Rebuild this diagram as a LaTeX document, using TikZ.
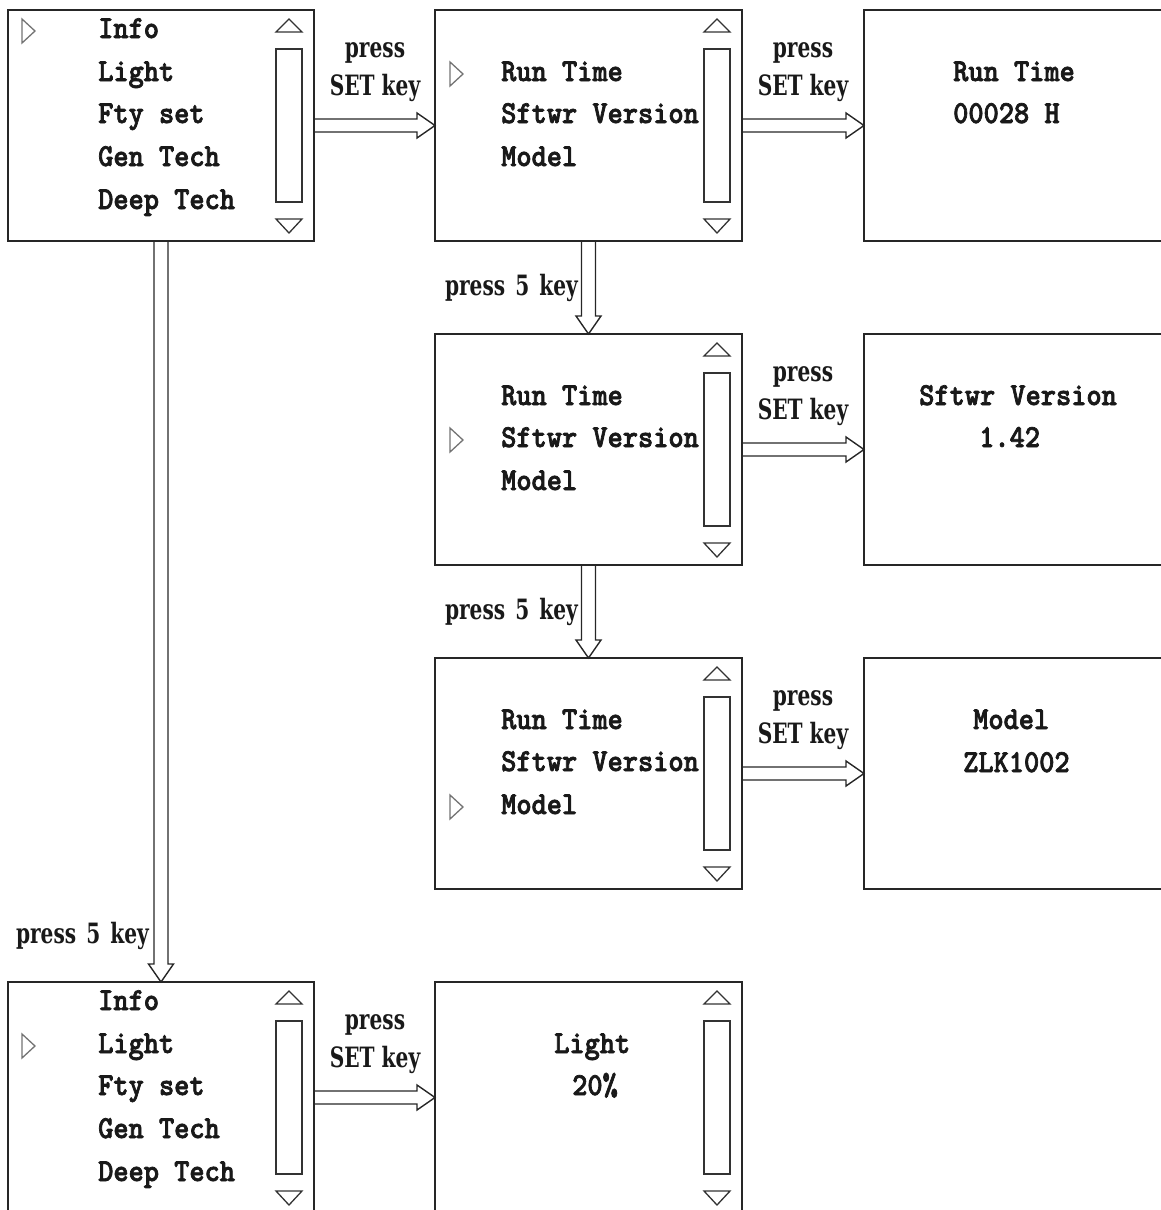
\documentclass[tikz,border=0pt]{standalone}
\usepackage{fontspec}
\usetikzlibrary{calc}
\newfontfamily\monof[FakeStretch=0.905, FakeBold=2.2]{lmmonolt10-bold.otf}
\newfontfamily\lblf[FakeStretch=0.72]{DejaVu Serif}
\newcommand\scrollbar[1]{%
  \begin{scope}[shift={(#1.north east)}]
    \draw[sb] (-38,39) rectangle (-12,192);
    \draw[sb] (-38,22) -- (-25,9) -- (-12,22) -- cycle;
    \draw[sb] (-38,209) -- (-25,223) -- (-12,209) -- cycle;
  \end{scope}}
\newcommand\pointer[2]{%
  \draw[ptr] (#1,#2-19) -- (#1+13,#2-7) -- (#1,#2+5) -- cycle;}
\begin{document}
\begin{tikzpicture}[x=1pt,y=-1pt,
  box/.style={draw=black!85, line width=1.5pt, minimum width=306pt, minimum height=231pt, inner sep=0pt, outer sep=0pt},
  wbox/.style={box, minimum width=307pt},
  sb/.style={draw=black!80, line width=1.3pt, line join=miter},
  ptr/.style={draw=black!55, line width=1.3pt, line join=miter},
  item/.style={font=\monof\fontsize{32}{38}\selectfont, anchor=base west, inner sep=0pt, text=black!90},
  lbl/.style={font=\lblf\bfseries\fontsize{28}{32}\selectfont, anchor=base, inner sep=0pt, text=black!90},
  conn/.style={draw=black!85, line width=1.4pt, line join=miter},
  harrow/.style={conn, to path={let \p1=(\tikztostart), \p2=(\tikztotarget) in
     (\x1,\y1+6.5pt) -- (\x2-18pt,\y1+6.5pt) -- (\x2-18pt,\y1+12.5pt) -- (\x2,\y1)
     -- (\x2-18pt,\y1-12.5pt) -- (\x2-18pt,\y1-6.5pt) -- (\x1,\y1-6.5pt)}},
  varrow/.style={conn, to path={let \p1=(\tikztostart), \p2=(\tikztotarget) in
     (\x1+7pt,\y1) -- (\x1+7pt,\y2+18pt) -- (\x1+12.5pt,\y2+18pt) -- (\x1,\y2)
     -- (\x1-12.5pt,\y2+18pt) -- (\x1-7pt,\y2+18pt) -- (\x1-7pt,\y1)}}
]
\useasboundingbox (0,0) rectangle (1161,1210);
\clip (0,0) rectangle (1161,1210);

% boxes
\node[box]  (A)  at (161,125.5) {};
\node[wbox] (B)  at (588.5,125.5) {};
\node[wbox] (C)  at (1017.5,125.5) {};
\node[wbox] (B2) at (588.5,449.5) {};
\node[wbox] (C2) at (1017.5,449.5) {};
\node[wbox] (B3) at (588.5,773.5) {};
\node[wbox] (C3) at (1017.5,773.5) {};
\node[box]  (A4) at (161,1097.5) {};
\node[wbox] (L)  at (588.5,1097.5) {};

\scrollbar{A}
\scrollbar{B}
\scrollbar{B2}
\scrollbar{B3}
\scrollbar{A4}
\scrollbar{L}

% menu A
\node[item] (a1) at (98,38) {Info};
\node[item] (a2) at (98,81) {Light};
\node[item] (a3) at (98,123) {Fty set};
\node[item] (a4) at (98,166) {Gen Tech};
\node[item] (a5) at (98,209) {Deep Tech};
\pointer{22}{38}

% menu B
\node[item] (b1) at (501,81) {Run Time};
\node[item] (b2) at (501,123) {Sftwr Version};
\node[item] (b3) at (501,166) {Model};
\pointer{450}{81}

% menu B2
\node[item] (b21) at (501,405) {Run Time};
\node[item] (b22) at (501,447) {Sftwr Version};
\node[item] (b23) at (501,490) {Model};
\pointer{450}{447}

% menu B3
\node[item] (b31) at (501,729) {Run Time};
\node[item] (b32) at (501,771) {Sftwr Version};
\node[item] (b33) at (501,814) {Model};
\pointer{450}{814}

% result boxes
\node[item] (c1) at (953,81) {Run Time};
\node[item] (c2) at (953,123) {00028 H};
\node[item] (c21) at (919,405) {Sftwr Version};
\node[item] (c22) at (979,447) {1.42};
\node[item] (c31) at (973,729) {Model};
\node[item] (c32) at (963,772) {ZLK1002};

% menu A4
\node[item] (d1) at (98,1010) {Info};
\node[item] (d2) at (98,1053) {Light};
\node[item] (d3) at (98,1095) {Fty set};
\node[item] (d4) at (98,1138) {Gen Tech};
\node[item] (d5) at (98,1181) {Deep Tech};
\pointer{22}{1053}

% light box
\node[item] (l1) at (554,1053) {Light};
\node[item] (l2) at (572,1095) {20\%};

% arrows
\draw[harrow] (A.east) to (B.west);
\draw[harrow] (B.east) to (C.west);
\draw[harrow] (B2.east) to (C2.west);
\draw[harrow] (B3.east) to (C3.west);
\draw[harrow] (A4.east) to (L.west);
\draw[varrow] (B.south) to (B2.north);
\draw[varrow] (B2.south) to (B3.north);
\draw[varrow] (A.south) to (A4.north);

% labels
\node[lbl] (p1a) at (375,57) {press};
\node[lbl] (p1b) at (375,95) {SET key};
\node[lbl] (p2a) at (803,57) {press};
\node[lbl] (p2b) at (803,95) {SET key};
\node[lbl] (p3a) at (803,381) {press};
\node[lbl] (p3b) at (803,419) {SET key};
\node[lbl] (p4a) at (803,705) {press};
\node[lbl] (p4b) at (803,743) {SET key};
\node[lbl] (p5a) at (375,1029) {press};
\node[lbl] (p5b) at (375,1067) {SET key};
\node[lbl, anchor=base east] (k1) at (578,295) {press\hspace{10pt}5\hspace{10pt}key};
\node[lbl, anchor=base east] (k2) at (578,619) {press\hspace{10pt}5\hspace{10pt}key};
\node[lbl, anchor=base east] (k3) at (149,943) {press\hspace{10pt}5\hspace{10pt}key};
\end{tikzpicture}
\end{document}
